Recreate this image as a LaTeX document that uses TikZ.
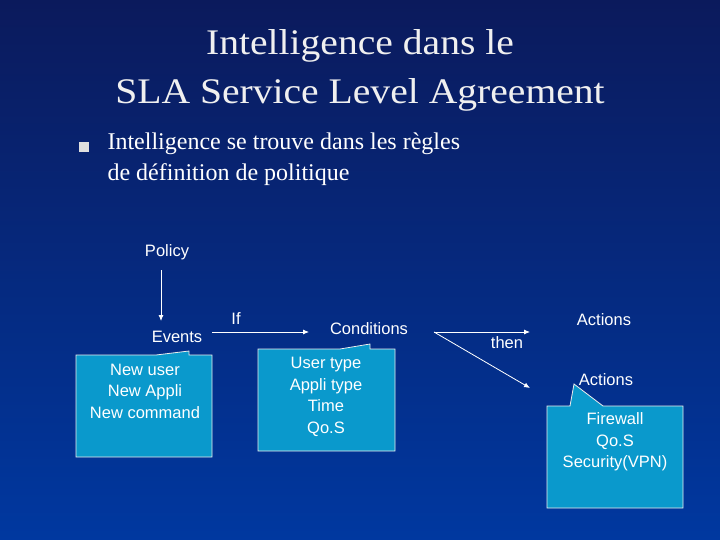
\documentclass[tikz,border=0pt]{standalone}
\usetikzlibrary{arrows.meta}
\usepackage{fontspec}
\setmainfont{Liberation Serif}
\newfontfamily\sans{Liberation Sans}
\begin{document}
\begin{tikzpicture}[x=1pt,y=-1pt,
  lbl/.style={text=white,font=\sans\fontsize{16.5}{21.5}\selectfont,inner sep=0pt},
  callout/.style={fill=boxc,draw=white!85!gray,line width=0.8pt},
  arr/.style={draw=white,line width=0.8pt,-{Latex[length=6pt,width=5pt]}}]
\definecolor{boxc}{HTML}{0A99CC}
\definecolor{bgtop}{HTML}{0B1A5C}
\definecolor{bgbot}{HTML}{0038A0}
\useasboundingbox (0,0) rectangle (720,540);
\shade[top color=bgtop,bottom color=bgbot] (0,0) rectangle (720,540);
% title
\node[text=white!88!gray,font=\fontsize{36}{49}\selectfont,align=center,xscale=1.1] (title) at (360,70) {Intelligence dans le\\SLA Service Level Agreement};
\fill[white!75!gray] (79,142) rectangle (89,152);
\node[text=white,font=\fontsize{24}{31}\selectfont,align=left,anchor=north west] (bul) at (104,129) {Intelligence se trouve dans les règles\\de définition de politique};
% callout boxes
\path[callout] (76,355) -- (156,355) -- (189,351) -- (189,355) -- (212,355) -- (212,457) -- (76,457) -- cycle;
\node[lbl,align=center] (evlist) at (145,391) {New user\\New Appli\\New command};
\path[callout] (258,349) -- (340,349) -- (370,344) -- (370,349) -- (395,349) -- (395,451) -- (258,451) -- cycle;
\node[lbl,align=center] (condlist) at (326,397) {User type\\Appli type\\Time\\Qo.S};
\path[callout] (547,406) -- (570,406) -- (574,384) -- (603,406) -- (683,406) -- (683,508) -- (547,508) -- cycle;
\node[lbl,align=center] (actlist) at (615,442) {Firewall\\Qo.S\\Security(VPN)};
% labels
\node[lbl] (policy) at (167,252) {Policy};
\node[lbl] (events) at (177,337) {Events};
\node[lbl] (if) at (236,319) {If};
\node[lbl] (cond) at (369,329) {Conditions};
\node[lbl] (then) at (507,343) {then};
\node[lbl] (act1) at (604,320) {Actions};
\node[lbl] (act2) at (606,380) {Actions};
\coordinate (p1) at (161,270); \coordinate (p2) at (161,321);
\coordinate (i1) at (212,332); \coordinate (i2) at (309,332);
\coordinate (t0) at (434,332); \coordinate (t1) at (530,332); \coordinate (t2) at (530,388);
\draw[arr] (p1) -- (p2);
\draw[arr] (i1) -- (i2);
\draw[arr] (t0) -- (t1);
\draw[arr] (t0) -- (t2);
\end{tikzpicture}
\end{document}
